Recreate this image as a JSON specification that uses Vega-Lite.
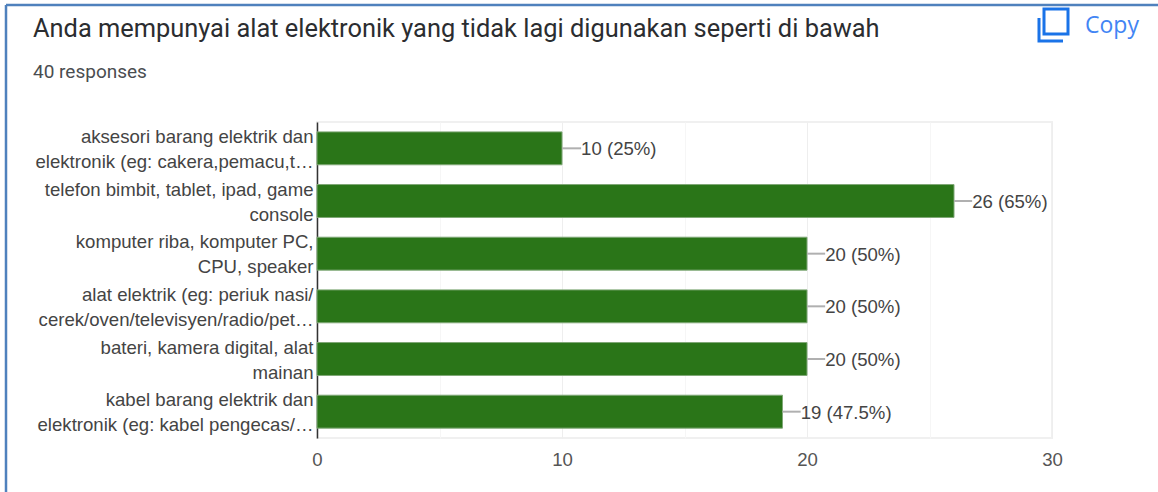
{"$schema":"https://vega.github.io/schema/vega-lite/v6.json","width":735,"height":316,"autosize":{"type":"none"},"padding":{"left":317,"top":122,"right":106,"bottom":54},"background":"white","title":{"text":"Anda mempunyai alat elektronik yang tidak lagi digunakan seperti di bawah","subtitle":"40 responses","anchor":"start","frame":"group","dx":-284,"offset":-99,"font":"Roboto","fontSize":25.4,"fontWeight":"normal","color":"#2b2d30","subtitleFont":"Roboto","subtitleFontSize":19,"subtitleColor":"#4a4d50","subtitlePadding":16,"baseline":"alphabetic"},"data":{"values":[{"item":"aksesori barang elektrik dan|elektronik (eg: cakera,pemacu,t…","count":10,"leaderEnd":10.78,"text":"10 (25%)"},{"item":"telefon bimbit, tablet, ipad, game|console","count":26,"leaderEnd":26.74,"text":"26 (65%)"},{"item":"komputer riba, komputer PC,|CPU, speaker","count":20,"leaderEnd":20.74,"text":"20 (50%)"},{"item":"alat elektrik (eg: periuk nasi/|cerek/oven/televisyen/radio/pet…","count":20,"leaderEnd":20.74,"text":"20 (50%)"},{"item":"bateri, kamera digital, alat|mainan","count":20,"leaderEnd":20.74,"text":"20 (50%)"},{"item":"kabel barang elektrik dan|elektronik (eg: kabel pengecas/…","count":19,"leaderEnd":19.74,"text":"19 (47.5%)"}]},"config":{"view":{"stroke":"#f0f0f0","strokeWidth":2}},"encoding":{"y":{"field":"item","type":"nominal","sort":null,"title":null,"scale":{"paddingInner":0.375,"paddingOuter":0.1875},"axis":{"labelExpr":"split(datum.label,'|')","labelFont":"Liberation Sans","labelFontSize":18.6,"labelColor":"#444444","labelLimit":300,"labelLineHeight":25,"labelPadding":4,"labelOffset":-11.5,"ticks":false,"domainColor":"#333333","domainWidth":1.5,"grid":false,"labelBaseline":"middle"}}},"layer":[{"mark":{"type":"bar","color":"#2a7518","stroke":"#7fa876","strokeWidth":1},"encoding":{"x":{"field":"count","type":"quantitative","scale":{"domain":[0,30],"nice":false},"title":null,"axis":{"values":[0,5,10,15,20,25,30],"labelExpr":"datum.value%10==0?datum.label:''","labelFont":"Liberation Sans","labelFontSize":18.6,"labelColor":"#555555","labelPadding":12,"ticks":false,"domain":false,"grid":true,"gridColor":{"condition":{"test":"datum.value%10==0","value":"#eeeeee"},"value":"#f6f6f6"},"gridWidth":1,"labelFlush":false}}}},{"mark":{"type":"rule","color":"#b0b0b0","strokeWidth":2},"encoding":{"x":{"field":"count","type":"quantitative"},"x2":{"field":"leaderEnd"}}},{"mark":{"type":"text","align":"left","baseline":"middle","font":"Liberation Sans","fontSize":18.6,"color":"#444444","dy":1},"encoding":{"x":{"field":"leaderEnd","type":"quantitative"},"text":{"field":"text"}}},{"data":{"values":[{"label":"Copy"}]},"mark":{"type":"text","align":"left","baseline":"middle","font":"Open Sans","fontSize":23,"color":"#4285f4"},"encoding":{"x":{"value":768},"text":{"field":"label"},"y":{"value":-96}}},{"data":{"values":[{"label":"icon"}]},"mark":{"type":"point","filled":false,"stroke":"#1a73e8","strokeWidth":3,"size":4,"opacity":1,"shape":"M-14,-7 L-14,16 L10,16 M-9,-16 L15,-16 L15,9 L-9,9 Z"},"encoding":{"x":{"value":736},"y":{"value":-97}}},{"data":{"values":[{"label":"frame"}]},"mark":{"type":"rule","color":"#4f81bd","strokeWidth":2.5},"encoding":{"x":{"value":-311},"x2":{"value":841},"y":{"value":-117}}},{"data":{"values":[{"label":"frame"}]},"mark":{"type":"rule","color":"#4f81bd","strokeWidth":2.5},"encoding":{"x":{"value":-311},"y":{"value":-117},"y2":{"value":370}}}]}
